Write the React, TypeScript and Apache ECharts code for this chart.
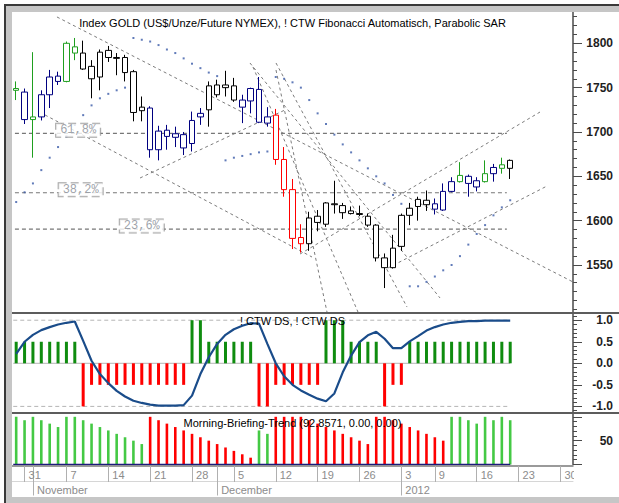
import React, { useEffect, useRef } from "react";
import * as echarts from "echarts";

// ---------------- data (trading days from 28 Oct 2011 to 20 Jan 2012) ----------------
const opens = [
  1747, 1745, 1714, 1717, 1742, 1763, 1757, 1796, 1789, 1774,
  1762, 1792, 1784, 1784, 1768, 1724, 1727, 1680, 1702, 1694,
  1697, 1687, 1717, 1725, 1753, 1750, 1752, 1728, 1735, 1748,
  1710, 1719, 1669, 1635, 1581, 1574, 1605, 1596, 1619, 1617,
  1611, 1608, 1605, 1595, 1558, 1547, 1571, 1606, 1616, 1623,
  1619, 1612, 1633, 1644, 1650, 1638, 1644, 1653, 1663, 1659,
];
const closes = [
  1749, 1714, 1717, 1742, 1762, 1757, 1800, 1789, 1771, 1760,
  1790, 1784, 1783, 1767, 1722, 1728, 1680, 1701, 1695, 1698,
  1682, 1713, 1721, 1752, 1742, 1753, 1736, 1736, 1749, 1711,
  1717, 1669, 1635, 1580, 1574, 1603, 1598, 1620, 1618, 1609,
  1608, 1607, 1595, 1558, 1547, 1569, 1606, 1614, 1624, 1618,
  1613, 1633, 1644, 1651, 1642, 1645, 1653, 1660, 1659, 1668,
];
const lows = [
  1736, 1709, 1671, 1713, 1727, 1753, 1756, 1781, 1770, 1738,
  1747, 1779, 1764, 1757, 1712, 1712, 1671, 1668, 1680, 1683,
  1674, 1678, 1708, 1706, 1739, 1740, 1734, 1710, 1721, 1710,
  1706, 1663, 1627, 1568, 1564, 1566, 1588, 1593, 1608, 1602,
  1607, 1605, 1593, 1554, 1524, 1546, 1566, 1595, 1600, 1611,
  1607, 1611, 1632, 1643, 1627, 1633, 1643, 1644, 1653, 1647,
];
const highs = [
  1757, 1749, 1790, 1747, 1770, 1768, 1802, 1806, 1803, 1781,
  1793, 1797, 1789, 1787, 1770, 1740, 1729, 1707, 1708, 1706,
  1700, 1723, 1727, 1757, 1759, 1769, 1761, 1742, 1750, 1762,
  1728, 1726, 1683, 1647, 1596, 1610, 1612, 1621, 1645, 1620,
  1616, 1617, 1608, 1596, 1563, 1584, 1608, 1620, 1627, 1634,
  1625, 1642, 1649, 1666, 1652, 1649, 1668, 1664, 1671, 1669,
];
// candle trend class: G = green, N = navy, K = black, R = red
const candleClass = [
  "G", "N", "G", "N", "N", "N", "G", "G", "K", "K",
  "K", "K", "K", "K", "K", "K", "N", "N", "N", "N",
  "N", "N", "N", "K", "K", "K", "K", "N", "N", "N",
  "N", "R", "R", "R", "R", "K", "K", "K", "K", "K",
  "K", "K", "K", "K", "K", "K", "K", "K", "K", "K",
  "N", "N", "N", "G", "N", "N", "G", "N", "G", "K",
];
const parabolicSar = [
  1621, 1632, 1642, 1657, 1671, 1683, 1695, 1708, 1719, 1730,
  1738, 1743, 1747, 1750, 1806, 1804, 1802, 1798, 1793, 1789,
  1783, 1777, 1772, 1767, 1763, 1668, 1671, 1673, 1675, 1677,
  1678, 1762, 1760, 1756, 1750, 1736, 1721, 1709, 1697, 1686,
  1677, 1668, 1659, 1650, 1642, 1629, 1619, 1526, 1526, 1531,
  1537, 1544, 1550, 1560, 1573, 1585, 1595, 1606, 1615, 1623,
];
const fibLevels = [1698.5, 1631.5, 1590.5];
const fibLabels = ["61,8%", "38,2%", "23,6%"];
const fibLabelAt = [7.4, 7.7, 15.0];
const fibSpan = [-0.15, 58.6];
// dashed trend / fan lines: [[dayIndex, price], [dayIndex, price]]
const trendLines = [
  [[4.87, 1829.7], [66.74, 1529.7]],
  [[3.44, 1719.2], [35.33, 1559.0]],
  [[14.79, 1648.1], [32.1, 1724.8]],
  [[33.9, 1562.4], [62.56, 1722.5]],
  [[44.4, 1546.6], [63.4, 1639.1]],
  [[31.03, 1769.9], [37.12, 1497]],
  [[28.28, 1773.3], [40.82, 1497]],
  [[31.03, 1777.8], [46.68, 1502.6]],
  [[27.92, 1777.8], [50.62, 1512.8]],
];

// ! CTW DS panel
const dsBars = [
  0.5, 0.5, 0.5, 0.5, 0.5, 0.5, 0.5, 0.5, -1, -0.5,
  -0.5, -0.5, -0.5, -0.5, -0.5, -0.5, -0.5, -0.5, -0.5, -0.5,
  -0.5, 1, 1, 0.5, 0.5, 0.5, 0.5, 0.5, 0.5, -1,
  -1, -0.5, -0.5, -0.5, -0.5, -0.5, -0.5, 1, 1, 1,
  0.5, 0.5, 0.5, 0.5, -1, -0.5, -0.5, 0.5, 0.5, 0.5,
  0.5, 0.5, 0.5, 0.5, 0.5, 0.5, 0.5, 0.5, 0.5, 0.5,
];
const dsLine = [
  0.22, 0.5, 0.66, 0.77, 0.84, 0.9, 0.94, 0.97, 0.52, 0.06,
  -0.25, -0.46, -0.64, -0.77, -0.87, -0.92, -0.96, -0.98, -0.98, -0.98,
  -0.97, -0.75, -0.25, 0.14, 0.45, 0.66, 0.79, 0.87, 0.93, 0.92,
  0.45, 0.0, -0.3, -0.5, -0.63, -0.73, -0.82, -0.88, -0.7, -0.21,
  0.18, 0.49, 0.65, 0.73, 0.57, 0.35, 0.35, 0.51, 0.63, 0.76,
  0.84, 0.9, 0.94, 0.96, 0.98, 0.98, 0.99, 0.99, 0.99, 0.99,
];
const dsLevels = [1, 0, -1];
const dsSpan = [-0.35, 59];

// Morning-Briefing-Trend panel
const mbtValues = [
  100, 92.86, 100, 92.86, 85.71, 78.57, 100, 100, 92.86, 85.71,
  78.57, 71.43, 64.29, 57.14, 50, 42.86, 100, 92.86, 85.71, 78.57,
  71.43, 64.29, 57.14, 50, 42.86, 35.71, 28.57, 21.43, 14.29, 71.43,
  64.29, 100, 100, 100, 100, 92.86, 85.71, 78.57, 71.43, 64.29,
  57.14, 50, 42.86, 100, 100, 92.86, 85.71, 78.57, 71.43, 64.29,
  57.14, 50, 100, 100, 92.86, 85.71, 100, 92.86, 100, 92.8571,
];
const mbtDirection = [
  "U", "U", "U", "U", "U", "U", "U", "U", "U", "U",
  "U", "U", "U", "U", "U", "U", "D", "D", "D", "D",
  "D", "D", "D", "D", "D", "D", "D", "D", "D", "U",
  "U", "D", "D", "D", "D", "D", "D", "D", "D", "D",
  "D", "D", "D", "D", "D", "D", "D", "D", "D", "D",
  "D", "D", "U", "U", "U", "U", "U", "U", "U", "U",
];
const mbtLevels = [0];
const mbtSpan = [-0.35, 59];

// date axis
const weekTickIdx = [1, 6, 11, 16, 21, 26, 31, 36, 41, 46, 50, 55, 60, 65];
const weekTickLabels = ["31", "7", "14", "21", "28", "5", "12", "19", "26", "3", "9", "16", "23", "30"];
const monthTickIdx = [2, 24, 46];
const monthTickLabels = ["November", "December", "2012"];

const priceTicks = [1550, 1600, 1650, 1700, 1750, 1800];
const dsTicks = [-1, -0.5, 0, 0.5, 1];
const mbtTicks = [50];

// ---------------- styling ----------------
const candleColors: Record<string, string> = { G: "#1f9f1f", N: "#000080", K: "#000000", R: "#ff0000" };
const FONT = "Liberation Sans";
const AXIS_COLOR = "#4a4a4a";
const DASH_COLOR = "#7c7c7c";

function steps(a: number, b: number, s: number) {
  const out: number[] = [];
  for (let v = a; v <= b + 1e-9; v += s) out.push(Math.round(v * 1000) / 1000);
  return out;
}

function buildOption() {
  const xBase = (grid: number) => ({
    type: "value",
    gridIndex: grid,
    min: -0.5,
    max: 66.5,
    show: false,
    axisLine: { onZero: false },
  });
  const yMain = (grid: number, min: number, max: number, ticks: number[], fmt: (v: number) => string) => ({
    type: "value",
    gridIndex: grid,
    position: "right",
    min,
    max,
    axisLine: { show: true, onZero: false, lineStyle: { color: AXIS_COLOR, width: 1.5 } },
    axisTick: { show: true, customValues: ticks, length: 9, lineStyle: { color: AXIS_COLOR } },
    axisLabel: {
      show: true,
      customValues: ticks,
      formatter: fmt,
      align: "right",
      margin: 40,
      fontFamily: FONT,
      fontWeight: "bold",
      fontSize: 12,
      color: "#1e1e1e",
    },
    splitLine: { show: false },
  });
  const yMinor = (grid: number, min: number, max: number, ticks: number[]) => ({
    type: "value",
    gridIndex: grid,
    position: "right",
    min,
    max,
    axisLine: { show: false, onZero: false },
    axisTick: { show: true, customValues: ticks, length: 4, lineStyle: { color: AXIS_COLOR } },
    axisLabel: { show: false },
    splitLine: { show: false },
  });

  const series: any[] = [];

  // trend lines
  trendLines.forEach((seg) => {
    series.push({
      type: "line",
      xAxisIndex: 0,
      yAxisIndex: 0,
      data: seg,
      symbol: "none",
      silent: true,
      clip: true,
      z: 1,
      lineStyle: { color: DASH_COLOR, width: 1, type: [3, 3] },
    });
  });
  // fibonacci levels
  fibLevels.forEach((lv) => {
    series.push({
      type: "line",
      xAxisIndex: 0,
      yAxisIndex: 0,
      data: [
        [fibSpan[0], lv],
        [fibSpan[1], lv],
      ],
      symbol: "none",
      silent: true,
      z: 1,
      lineStyle: { color: "#777777", width: 1.2, type: [4, 3] },
    });
  });
  // parabolic SAR
  series.push({
    type: "scatter",
    xAxisIndex: 0,
    yAxisIndex: 0,
    data: parabolicSar.map((v, i) => [i, v]),
    symbol: "rect",
    symbolSize: 2,
    silent: true,
    z: 2,
    itemStyle: { color: "#3a5aa8" },
  });
  // candles
  series.push({
    type: "candlestick",
    xAxisIndex: 0,
    yAxisIndex: 0,
    barWidth: 6,
    encode: { x: 0, y: [1, 2, 3, 4] },
    z: 5,
    data: opens.map((o, i) => {
      const c = candleColors[candleClass[i]];
      return {
        value: [i, o, closes[i], lows[i], highs[i]],
        itemStyle: { color: "#ffffff", color0: c, borderColor: c, borderColor0: c, borderWidth: 1 },
      };
    }),
  });
  // fib labels
  series.push({
    type: "scatter",
    xAxisIndex: 0,
    yAxisIndex: 0,
    data: fibLabelAt.map((x, k) => [x, fibLevels[k]]),
    symbolSize: 1,
    silent: true,
    z: 6,
    itemStyle: { color: "rgba(0,0,0,0)" },
    label: {
      show: true,
      position: "inside",
      offset: [0, -3],
      formatter: (p: any) => fibLabels[p.dataIndex],
      fontFamily: "Liberation Mono",
      fontSize: 12,
      lineHeight: 12,
      color: "#868b94",
      backgroundColor: "#ffffff",
      borderColor: "#8e8e8e",
      borderWidth: 1,
      borderType: "dashed",
      padding: [1, 4, 0, 4],
    },
  });

  // DS panel
  dsLevels.forEach((lv) => {
    series.push({
      type: "line",
      xAxisIndex: 1,
      yAxisIndex: 2,
      data: [
        [dsSpan[0], lv],
        [dsSpan[1], lv],
      ],
      symbol: "none",
      silent: true,
      z: 1,
      lineStyle: lv === 0 ? { color: "#c4c4c4", width: 1.2 } : { color: "#b4b4b4", width: 1, type: [4, 3] },
    });
  });
  series.push({
    type: "bar",
    xAxisIndex: 1,
    yAxisIndex: 2,
    barWidth: 3,
    z: 2,
    data: dsBars.map((v, i) => ({ value: [i, v], itemStyle: { color: v > 0 ? "#0f8c0f" : "#ff0000" } })),
  });
  series.push({
    type: "line",
    xAxisIndex: 1,
    yAxisIndex: 2,
    data: dsLine.map((v, i) => [i, v]),
    symbol: "none",
    z: 3,
    lineStyle: { color: "#1a4c8a", width: 2.2 },
  });

  // MBT panel
  series.push({
    type: "bar",
    xAxisIndex: 2,
    yAxisIndex: 4,
    barWidth: 2.6,
    z: 2,
    data: mbtValues.map((v, i) => ({
      value: [i, v],
      itemStyle: { color: mbtDirection[i] === "U" ? "#44c944" : "#ff0000" },
    })),
  });
  mbtLevels.forEach((lv) => {
    series.push({
      type: "line",
      xAxisIndex: 2,
      yAxisIndex: 4,
      data: [
        [mbtSpan[0], lv],
        [mbtSpan[1], lv],
      ],
      symbol: "none",
      silent: true,
      z: 3,
      lineStyle: { color: "#1c1c7a", width: 1.5 },
    });
  });

  const titleStyle = (text: string) => ({
    text,
    fill: "#000",
    font: `11px "${FONT}"`,
    align: "center",
    verticalAlign: "middle",
  });

  const frame = "#c6c6c6";
  const dark = "#3a3a3a";

  return {
    animation: false,
    backgroundColor: "#ffffff",
    grid: [
      { left: 12, right: 46, top: 12, height: 300 },
      { left: 12, right: 46, top: 314, height: 98 },
      { left: 12, right: 46, top: 414, height: 50.5 },
    ],
    xAxis: [
      xBase(0),
      xBase(1),
      {
        type: "value",
        gridIndex: 2,
        min: -0.5,
        max: 66.5,
        position: "bottom",
        offset: 1.5,
        axisLine: { show: true, onZero: false, lineStyle: { color: "#7a7a7a", width: 1.5 } },
        axisTick: {
          show: true,
          customValues: [...weekTickIdx, ...monthTickIdx],
          length: 16,
          lineStyle: { color: "#b0b0b0" },
        },
        axisLabel: {
          show: true,
          customValues: weekTickIdx,
          formatter: (v: number) => weekTickLabels[weekTickIdx.indexOf(v)] ?? "",
          align: "left",
          padding: [0, 0, 0, 4],
          margin: 3,
          fontFamily: FONT,
          fontSize: 11,
          color: "#8c8c8c",
        },
        splitLine: { show: false },
      },
      {
        type: "value",
        gridIndex: 2,
        min: -0.5,
        max: 66.5,
        position: "bottom",
        offset: 17,
        axisLine: { show: true, onZero: false, lineStyle: { color: "#d6d6d6", width: 1 } },
        axisTick: { show: true, customValues: monthTickIdx, length: 14, lineStyle: { color: "#b0b0b0" } },
        axisLabel: {
          show: true,
          customValues: monthTickIdx,
          formatter: (v: number) => monthTickLabels[monthTickIdx.indexOf(v)] ?? "",
          align: "left",
          padding: [0, 0, 0, 4],
          margin: 3,
          fontFamily: FONT,
          fontSize: 11,
          color: "#8c8c8c",
        },
        splitLine: { show: false },
      },
    ],
    yAxis: [
      yMain(0, 1497, 1835.3, priceTicks, (v: number) => String(v)),
      yMinor(0, 1497, 1835.3, steps(1500, 1830, 10)),
      yMain(1, -1.13, 1.144, dsTicks, (v: number) => v.toFixed(1)),
      yMinor(1, -1.13, 1.144, steps(-1.1, 1.1, 0.1)),
      yMain(2, 0, 105.9, [0, 50, 100], (v: number) => (mbtTicks.includes(v) ? String(v) : "")),
      yMinor(2, 0, 105.9, steps(10, 100, 10)),
    ],
    series,
    graphic: [
      { type: "rect", z: 99, shape: { x: 574, y: 467, width: 45, height: 30 }, style: { fill: "#ffffff" } },
      { type: "rect", z: 100, shape: { x: 12, y: 312, width: 607, height: 2 }, style: { fill: "#5c5c5c" } },
      { type: "rect", z: 100, shape: { x: 12, y: 412, width: 607, height: 2 }, style: { fill: "#5c5c5c" } },
      { type: "rect", z: 100, shape: { x: 6, y: 6, width: 613, height: 6 }, style: { fill: frame } },
      { type: "rect", z: 100, shape: { x: 6, y: 6, width: 6, height: 497 }, style: { fill: frame } },
      { type: "rect", z: 100, shape: { x: 6, y: 497, width: 613, height: 6 }, style: { fill: frame } },
      { type: "rect", z: 100, shape: { x: 4, y: 4, width: 615, height: 2 }, style: { fill: dark } },
      { type: "rect", z: 100, shape: { x: 4, y: 4, width: 2, height: 499 }, style: { fill: dark } },
      {
        type: "text",
        z: 101,
        x: 292.5,
        y: 23,
        style: titleStyle("Index GOLD (US$/Unze/Future NYMEX), ! CTW Fibonacci Automatisch, Parabolic SAR"),
      },
      { type: "text", z: 101, x: 292.5, y: 321, style: titleStyle("! CTW DS, ! CTW DS") },
      {
        type: "text",
        z: 101,
        x: 292.5,
        y: 422.5,
        style: titleStyle("Morning-Briefing-Trend (92.8571, 0.00, 0.00)"),
      },
    ],
  };
}

export default function App() {
  const ref = useRef<HTMLDivElement>(null);
  useEffect(() => {
    if (!ref.current) return;
    const chart = echarts.init(ref.current, null, { renderer: "svg" });
    chart.setOption(buildOption() as any);
    return () => chart.dispose();
  }, []);
  return (
    <div
      ref={ref}
      style={{ position: "absolute", left: 0, top: 0, width: 619, height: 503, background: "#ffffff" }}
    />
  );
}
